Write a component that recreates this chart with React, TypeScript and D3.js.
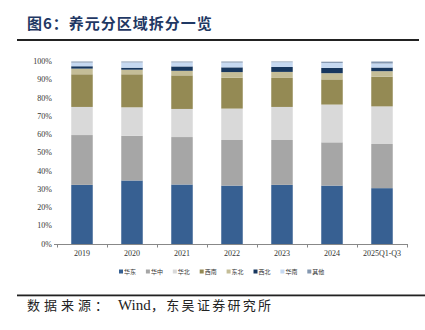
import React from "react";
import * as d3 from "d3";

const categories = ["2019", "2020", "2021", "2022", "2023", "2024", "2025Q1-Q3"];
const seriesNames = ["华东", "华中", "华北", "西南", "东北", "西北", "华南", "其他"];
const huadong = [32.4, 34.8, 32.6, 32.0, 32.4, 32.0, 30.6];
const huazhong = [27.3, 24.5, 26.0, 25.0, 24.6, 23.7, 24.2];
const huabei = [15.4, 15.6, 15.4, 17.2, 18.1, 20.7, 20.6];
const xinan = [17.9, 18.1, 18.4, 16.9, 15.9, 13.8, 16.3];
const dongbei = [3.1, 2.5, 2.5, 3.1, 3.3, 3.4, 3.0];
const xibei = [1.3, 1.1, 2.4, 2.6, 2.7, 2.9, 2.0];
const huanan = [2.0, 2.9, 2.2, 2.6, 2.6, 2.7, 2.2];
const qita = [0.6, 0.5, 0.5, 0.6, 0.4, 0.7, 1.1];
const colors = ["#376092", "#A6A6A6", "#D9D9D9", "#948A54", "#C4BD97", "#17375E", "#C6D9F1", "#8497B0"];
const yTicks = [0, 10, 20, 30, 40, 50, 60, 70, 80, 90, 100];

const allSeries = [huadong, huazhong, huabei, xinan, dongbei, xibei, huanan, qita];

export default function App() {
  const W = 425, H = 330;
  const left = 57, right = 407, top = 61.5, bottom = 244;
  const x = d3.scaleBand<string>().domain(categories).range([left, right]).paddingInner(0.57).paddingOuter(0.285);
  const y = d3.scaleLinear().domain([0, 100]).range([bottom, top]);

  const rows = categories.map((c, i) => {
    const r: any = { cat: c };
    seriesNames.forEach((s, j) => (r[s] = allSeries[j][i]));
    return r;
  });
  const stacked = d3.stack<any>().keys(seriesNames)(rows);
  const step = x.step();
  const boundaries = d3.range(categories.length + 1).map((i) => left + i * step);
  const serif = "'Liberation Serif', 'Times New Roman', serif";
  const cjk = "'Noto Sans CJK SC', sans-serif";

  return (
    <svg width={W} height={H} style={{ position: "absolute", left: 0, top: 0, background: "#fff" }}>
      <text x={27} y={29} fontFamily={cjk} fontWeight="bold" fontSize={15} fill="#1F3864" letterSpacing={1}>
        图6：养元分区域拆分一览
      </text>
      <rect x={17} y={39} width={402} height={2} fill="#222" />

      {stacked.map((layer, j) => (
        <g key={seriesNames[j]}>
          {layer.map((d, i) => (
            <rect
              key={i}
              x={x(categories[i])}
              width={x.bandwidth()}
              y={y(d[1])}
              height={Math.max(0, y(d[0]) - y(d[1]))}
              fill={colors[j]}
            />
          ))}
        </g>
      ))}

      {yTicks.map((t) => (
        <text key={t} x={52} y={y(t)} dy="0.33em" textAnchor="end" fontFamily={serif} fontSize={8} fill="#333">
          {t}%
        </text>
      ))}
      <line x1={left} x2={right} y1={bottom + 0.5} y2={bottom + 0.5} stroke="#888" strokeWidth={1} />
      <line x1={left - 3} x2={left} y1={bottom + 0.5} y2={bottom + 0.5} stroke="#888" strokeWidth={1} />
      {boundaries.map((b, i) => (
        <line key={i} x1={b + 0.5} x2={b + 0.5} y1={bottom} y2={bottom + 3.5} stroke="#888" strokeWidth={1} />
      ))}
      {categories.map((c) => (
        <text key={c} x={(x(c) as number) + x.bandwidth() / 2} y={256} textAnchor="middle" fontFamily={serif} fontSize={8} fill="#333">
          {c}
        </text>
      ))}

      {seriesNames.map((s, j) => {
        const lx = 119 + j * 26.9;
        return (
          <g key={s}>
            <rect x={lx} y={269.5} width={4} height={4} fill={colors[j]} />
            <text x={lx + 5} y={274} fontFamily={cjk} fontSize={6} fill="#333">
              {s}
            </text>
          </g>
        );
      })}

      <rect x={17} y={294.5} width={408} height={1.8} fill="#222" />
      <text y={309.5} fill="#222">
        <tspan x={27} fontFamily={cjk} fontSize={13} letterSpacing={4}>数据来源：</tspan>
        <tspan x={118} fontFamily={serif} fontSize={15}>Wind</tspan>
        <tspan x={151} fontFamily={cjk} fontSize={13} letterSpacing={2.3}>，东吴证券研究所</tspan>
      </text>
    </svg>
  );
}
